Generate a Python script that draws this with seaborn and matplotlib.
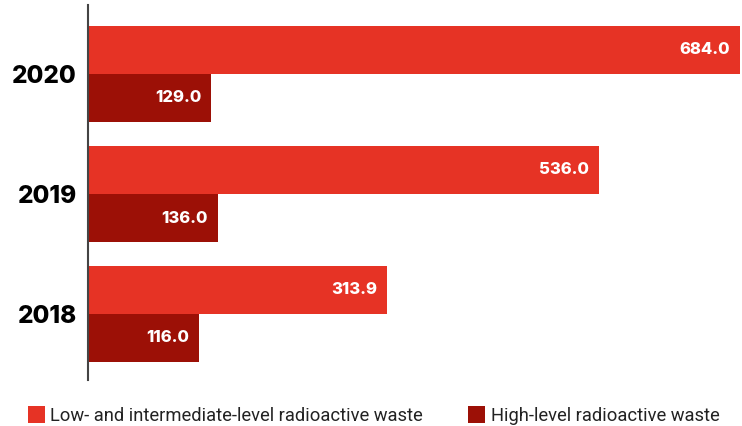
import matplotlib
matplotlib.use("Agg")
import matplotlib.pyplot as plt
from matplotlib.patches import Rectangle
import pandas as pd
import seaborn as sns

years = ["2020", "2019", "2018"]
low_level = [684.0, 536.0, 313.9]
high_level = [129.0, 136.0, 116.0]
series = ["Low- and intermediate-level radioactive waste", "High-level radioactive waste"]
colors = ["#E63325", "#9C1006"]

df = pd.DataFrame({
    "Year": years * 2,
    "Value": low_level + high_level,
    "Series": [series[0]] * 3 + [series[1]] * 3,
})

sns.set_style("white")
plt.rcParams["font.family"] = ["Inter", "DejaVu Sans"]

W, H = 742, 426
fig = plt.figure(figsize=(W / 100, H / 100), dpi=100)
ax = fig.add_axes([88 / W, 1 - 380 / H, (741 - 88) / W, 375 / H])

sns.barplot(data=df, y="Year", x="Value", hue="Series", order=years,
            hue_order=series, palette=colors, orient="h", width=0.8,
            saturation=1, linewidth=0, ax=ax, legend=False)

for cont in ax.containers:
    labels = ax.bar_label(cont, labels=[f"{v:.1f}" for v in cont.datavalues],
                          padding=-7, color="white", fontsize=12,
                          fontweight=800)
    for lbl in labels:
        lbl.set_horizontalalignment("right")

ax.set_xlim(0, 685)
ax.set_ylim(2.55, -0.575)
ax.set_xlabel("")
ax.set_ylabel("")
ax.set_xticks([])
for s in ["top", "right", "bottom"]:
    ax.spines[s].set_visible(False)
ax.spines["left"].set_color("#444444")
ax.spines["left"].set_linewidth(1.5)
ax.tick_params(axis="y", length=0, pad=8)
for t in ax.get_yticklabels():
    t.set_fontsize(17.5)
    t.set_fontweight(800)
    t.set_color("black")

# legend drawn by hand: swatch + label, in figure pixels
for i, (sx, tx) in enumerate([(28, 50), (468, 491)]):
    fig.add_artist(Rectangle((sx / W, 1 - 423 / H), 17 / W, 17 / H,
                             transform=fig.transFigure, color=colors[i], lw=0))
    fig.text(tx / W, 1 - 421 / H, series[i], ha="left", va="baseline",
             fontsize=13.2, color="#222222", family=["Roboto", "DejaVu Sans"])

fig.savefig("out.png", dpi=100)
